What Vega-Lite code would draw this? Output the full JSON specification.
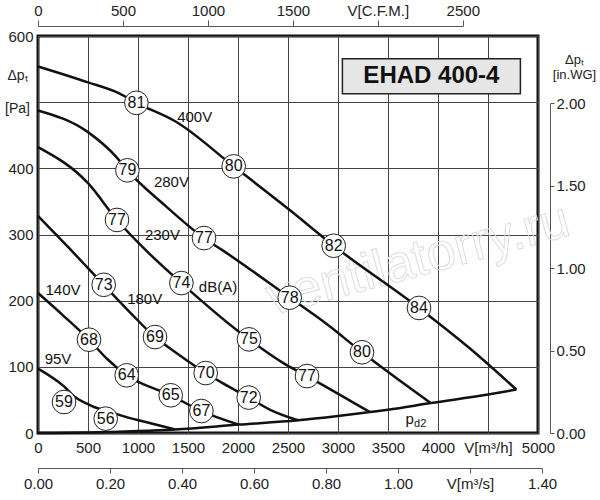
{
  "$schema": "https://vega.github.io/schema/vega-lite/v6.json",
  "width": 500,
  "height": 397,
  "autosize": "none",
  "padding": {"left": 38, "top": 36, "right": 62, "bottom": 67},
  "background": "white",
  "datasets": {
    "curves": [
      {"series": "400V", "v": 0, "p": 554},
      {"series": "400V", "v": 500, "p": 530},
      {"series": "400V", "v": 817, "p": 513},
      {"series": "400V", "v": 984, "p": 499},
      {"series": "400V", "v": 1384, "p": 470},
      {"series": "400V", "v": 1957, "p": 403},
      {"series": "400V", "v": 2517, "p": 337},
      {"series": "400V", "v": 2957, "p": 283},
      {"series": "400V", "v": 3810, "p": 189},
      {"series": "400V", "v": 4317, "p": 128},
      {"series": "400V", "v": 4784, "p": 65.6},
      {"series": "280V", "v": 0, "p": 487.5},
      {"series": "280V", "v": 500, "p": 454.7},
      {"series": "280V", "v": 784, "p": 417},
      {"series": "280V", "v": 894, "p": 397},
      {"series": "280V", "v": 1250, "p": 346.5},
      {"series": "280V", "v": 1660, "p": 294.6},
      {"series": "280V", "v": 1847, "p": 276},
      {"series": "280V", "v": 2517, "p": 204.5},
      {"series": "280V", "v": 2884, "p": 165},
      {"series": "280V", "v": 3240, "p": 122},
      {"series": "280V", "v": 3927, "p": 45.3},
      {"series": "230V", "v": 0, "p": 432},
      {"series": "230V", "v": 500, "p": 377.6},
      {"series": "230V", "v": 790, "p": 322},
      {"series": "230V", "v": 1080, "p": 276},
      {"series": "230V", "v": 1434, "p": 226.6},
      {"series": "230V", "v": 2110, "p": 141.5},
      {"series": "230V", "v": 2450, "p": 106},
      {"series": "230V", "v": 2690, "p": 86},
      {"series": "230V", "v": 3317, "p": 31.7},
      {"series": "180V", "v": 0, "p": 328},
      {"series": "180V", "v": 317, "p": 278.5},
      {"series": "180V", "v": 657, "p": 224},
      {"series": "180V", "v": 917, "p": 182.8},
      {"series": "180V", "v": 1170, "p": 145},
      {"series": "180V", "v": 1384, "p": 121},
      {"series": "180V", "v": 1677, "p": 90.6},
      {"series": "180V", "v": 1850, "p": 75},
      {"series": "180V", "v": 2107, "p": 53.5},
      {"series": "180V", "v": 2317, "p": 35.5},
      {"series": "180V", "v": 2600, "p": 19.2},
      {"series": "140V", "v": 0, "p": 211.5},
      {"series": "140V", "v": 250, "p": 177.8},
      {"series": "140V", "v": 510, "p": 141},
      {"series": "140V", "v": 684, "p": 113},
      {"series": "140V", "v": 887, "p": 87.2},
      {"series": "140V", "v": 1327, "p": 57},
      {"series": "140V", "v": 1634, "p": 33.2},
      {"series": "140V", "v": 2010, "p": 12.7},
      {"series": "95V", "v": 0, "p": 97.3},
      {"series": "95V", "v": 260, "p": 70.5},
      {"series": "95V", "v": 377, "p": 53.5},
      {"series": "95V", "v": 477, "p": 45.3},
      {"series": "95V", "v": 560, "p": 39.3},
      {"series": "95V", "v": 677, "p": 34.3},
      {"series": "95V", "v": 827, "p": 26.7},
      {"series": "95V", "v": 1077, "p": 16.6},
      {"series": "95V", "v": 1367, "p": 5.4},
      {"series": "pd2", "v": 0, "p": 0},
      {"series": "pd2", "v": 500, "p": 0.7},
      {"series": "pd2", "v": 1000, "p": 2.9},
      {"series": "pd2", "v": 1367, "p": 5.4},
      {"series": "pd2", "v": 2010, "p": 12.7},
      {"series": "pd2", "v": 2600, "p": 19.2},
      {"series": "pd2", "v": 3000, "p": 25.8},
      {"series": "pd2", "v": 3317, "p": 31.7},
      {"series": "pd2", "v": 3500, "p": 35.2},
      {"series": "pd2", "v": 3927, "p": 45.3},
      {"series": "pd2", "v": 4500, "p": 58.1},
      {"series": "pd2", "v": 4784, "p": 65.6}
    ],
    "noise": [
      {"db": "81", "v": 984, "p": 499},
      {"db": "80", "v": 1957, "p": 403},
      {"db": "82", "v": 2957, "p": 283},
      {"db": "84", "v": 3810, "p": 189},
      {"db": "79", "v": 894, "p": 397},
      {"db": "77", "v": 1660, "p": 294.6},
      {"db": "78", "v": 2517, "p": 204.5},
      {"db": "80", "v": 3240, "p": 122},
      {"db": "77", "v": 790, "p": 322},
      {"db": "74", "v": 1434, "p": 226.6},
      {"db": "75", "v": 2110, "p": 141.5},
      {"db": "77", "v": 2690, "p": 86},
      {"db": "73", "v": 657, "p": 224},
      {"db": "69", "v": 1170, "p": 145},
      {"db": "70", "v": 1677, "p": 90.6},
      {"db": "72", "v": 2107, "p": 53.5},
      {"db": "68", "v": 510, "p": 141},
      {"db": "64", "v": 887, "p": 87.2},
      {"db": "65", "v": 1327, "p": 57},
      {"db": "67", "v": 1634, "p": 33.2},
      {"db": "59", "v": 260, "p": 46.8},
      {"db": "56", "v": 677, "p": 21.7}
    ],
    "labels": [
      {"t": "400V", "v": 1567, "p": 478},
      {"t": "280V", "v": 1334, "p": 379},
      {"t": "230V", "v": 1244, "p": 298.6},
      {"t": "dB(A)", "v": 1800, "p": 220.5},
      {"t": "180V", "v": 1067, "p": 203},
      {"t": "140V", "v": 250, "p": 215.6},
      {"t": "95V", "v": 200, "p": 112},
      {"t": "p", "v": 3717, "p": 21.7}
    ]
  },
  "config": {
    "font": "Liberation Sans",
    "view": {"stroke": "#111", "strokeWidth": 3},
    "axis": {
      "labelFont": "Liberation Sans",
      "labelFontSize": 15,
      "labelColor": "#222",
      "labelFlush": false,
      "labelOverlap": false,
      "domainColor": "#555",
      "tickColor": "#555",
      "titleFont": "Liberation Sans",
      "titleFontWeight": "normal",
      "titleColor": "#222"
    }
  },
  "layer": [
    {
      "encoding": {
        "x": {
          "field": "v",
          "type": "quantitative",
          "scale": {"domain": [0, 5000], "nice": false},
          "axis": {
            "orient": "bottom",
            "values": [0, 500, 1000, 1500, 2000, 2500, 3000, 3500, 4000, 4500, 5000],
            "format": "d",
            "labelExpr": "datum.value == 4500 ? 'V[m³/h]' : datum.label",
            "grid": true,
            "gridColor": "#444",
            "gridWidth": 1,
            "domain": false,
            "ticks": false,
            "tickSize": 0,
            "labelPadding": 7,
            "title": null
          }
        },
        "y": {
          "field": "p",
          "type": "quantitative",
          "scale": {"domain": [0, 600], "nice": false},
          "axis": {
            "orient": "left",
            "values": [0, 100, 200, 300, 400, 500, 600],
            "labelExpr": "datum.value == 500 ? '' : datum.label",
            "grid": true,
            "gridColor": "#444",
            "gridWidth": 1,
            "domain": false,
            "ticks": false,
            "tickSize": 0,
            "labelPadding": 5,
            "title": ["Δpₜ", "[Pa]"],
            "titleAngle": 0,
            "titleAlign": "center",
            "titleBaseline": "top",
            "titleFontSize": 14,
            "titleLineHeight": 33,
            "titleX": -21,
            "titleY": 32
          }
        }
      },
      "layer": [
        {
          "data": {"values": [{"t": "ventilatorry.ru", "v": 3800, "p": 262}]},
          "mark": {"type": "text", "angle": -15, "fontSize": 52, "fillOpacity": 0, "stroke": "#dcdcdc", "strokeWidth": 1},
          "encoding": {"text": {"field": "t"}}
        },
        {
          "data": {"name": "curves"},
          "mark": {"type": "line", "interpolate": "monotone", "color": "#111", "strokeWidth": 2.5},
          "encoding": {"detail": {"field": "series"}}
        },
        {
          "data": {"name": "noise"},
          "mark": {"type": "point", "shape": "circle", "filled": true, "fill": "white", "stroke": "#222", "strokeWidth": 1, "size": 560, "opacity": 1}
        },
        {
          "data": {"name": "noise"},
          "mark": {"type": "text", "fontSize": 16, "color": "#111"},
          "encoding": {"text": {"field": "db"}}
        },
        {
          "data": {"name": "labels"},
          "mark": {"type": "text", "fontSize": 15, "color": "#111"},
          "encoding": {"text": {"field": "t"}}
        },
        {
          "data": {"values": [{"t": "d2", "v": 3822, "p": 13}]},
          "mark": {"type": "text", "fontSize": 11, "color": "#111"},
          "encoding": {"text": {"field": "t"}}
        },
        {
          "data": {"values": [{"v": 3044, "v2": 4824, "p": 565.6, "p2": 512.7}]},
          "mark": {"type": "rect", "fill": "#e6e6e6", "stroke": "#222", "strokeWidth": 1.5},
          "encoding": {"x2": {"field": "v2"}, "y2": {"field": "p2"}}
        },
        {
          "data": {"values": [{"t": "EHAD 400-4", "v": 3934, "p": 539}]},
          "mark": {"type": "text", "fontSize": 24, "fontWeight": "bold", "color": "#111"},
          "encoding": {"text": {"field": "t"}}
        }
      ]
    },
    {
      "data": {"values": [{"cfm": 0}, {"cfm": 2500}]},
      "mark": {"type": "point", "opacity": 0},
      "encoding": {
        "x": {
          "field": "cfm",
          "type": "quantitative",
          "scale": {"domain": [0, 2500], "range": [0, 424.8], "nice": false},
          "axis": {
            "orient": "top",
            "offset": 10,
            "values": [0, 500, 1000, 1500, 2000, 2500],
            "format": "d",
            "labelExpr": "datum.value == 2000 ? 'V[C.F.M.]' : datum.label",
            "tickSize": 6,
            "labelPadding": 2,
            "grid": false,
            "title": null
          }
        }
      }
    },
    {
      "data": {"values": [{"w": 0}, {"w": 2}]},
      "mark": {"type": "point", "opacity": 0},
      "encoding": {
        "y": {
          "field": "w",
          "type": "quantitative",
          "scale": {"domain": [0, 2], "range": [397, 67.2], "nice": false, "zero": false},
          "axis": {
            "orient": "right",
            "offset": 12,
            "values": [0, 0.5, 1, 1.5, 2],
            "format": ".2f",
            "tickSize": 4,
            "labelPadding": 2,
            "grid": false,
            "title": ["Δpₜ", "[in.WG]"],
            "titleAngle": 0,
            "titleAlign": "center",
            "titleBaseline": "top",
            "titleFontSize": 13,
            "titleLineHeight": 15,
            "titleX": 24,
            "titleY": 17
          }
        }
      }
    },
    {
      "data": {"values": [{"q": 0}, {"q": 1.4}]},
      "mark": {"type": "point", "opacity": 0},
      "encoding": {
        "x": {
          "field": "q",
          "type": "quantitative",
          "scale": {"domain": [0, 1.4], "range": [0, 504], "nice": false},
          "axis": {
            "orient": "bottom",
            "offset": 35,
            "values": [0, 0.2, 0.4, 0.6, 0.8, 1, 1.2, 1.4],
            "format": ".2f",
            "labelExpr": "datum.value == 1.2 ? 'V[m³/s]' : datum.label",
            "tickSize": 5,
            "labelPadding": 3,
            "grid": false,
            "title": null
          }
        }
      }
    }
  ],
  "resolve": {"scale": {"x": "independent", "y": "independent"}}
}
